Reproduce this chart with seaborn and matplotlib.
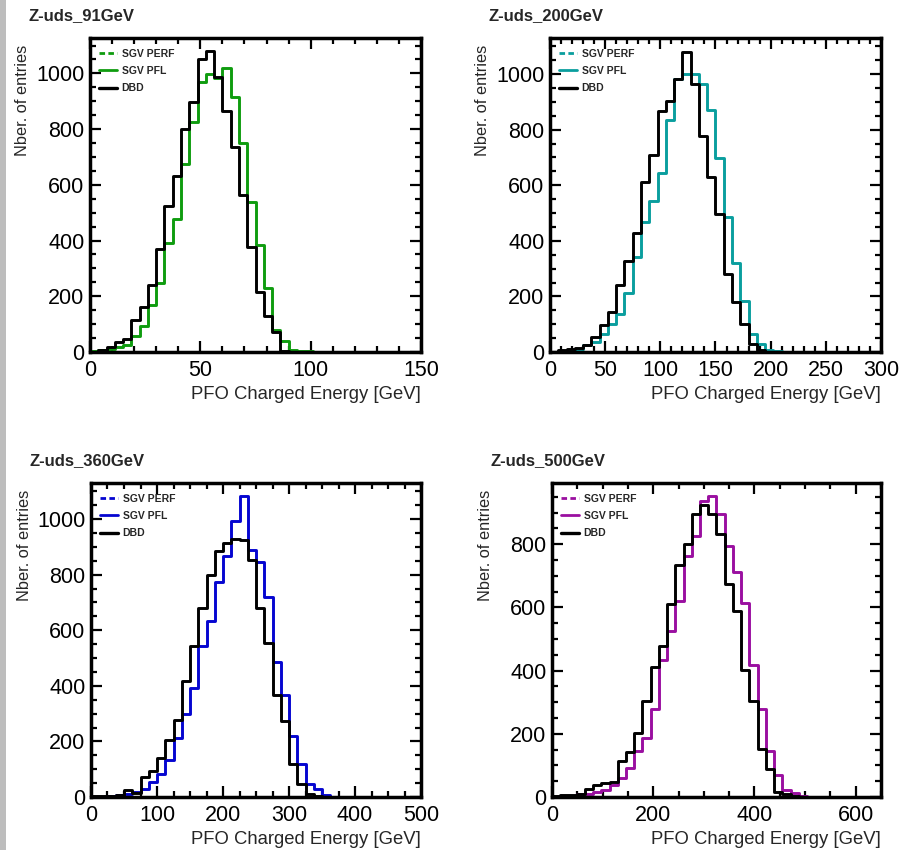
import numpy as np
import pandas as pd
import matplotlib
matplotlib.use("Agg")
import matplotlib.pyplot as plt
from matplotlib.lines import Line2D
from matplotlib.patches import Rectangle
from matplotlib.ticker import MultipleLocator
import seaborn as sns

# ---------------- data (bin contents, 40 bins per panel) ----------------
titles = ["Z-uds_91GeV", "Z-uds_200GeV", "Z-uds_360GeV", "Z-uds_500GeV"]
x_max = [150, 300, 500, 650]
n_bins = 40

sgv_91 = [2, 6, 12, 18, 25, 56, 92, 170, 246, 392, 479, 673, 826, 970, 997, 985, 1019, 915, 750, 539,
          383, 231, 80, 40, 6, 3, 2, 1, 1, 1, 1, 1, 1, 1, 1, 1, 0, 0, 0, 0]
dbd_91 = [1, 6, 18, 36, 48, 116, 162, 240, 368, 525, 632, 800, 899, 1051, 1080, 988, 866, 734, 563, 377,
          216, 128, 72, 4, 1, 0, 0, 0, 0, 0, 0, 0, 0, 0, 0, 0, 0, 0, 0, 0]

sgv_200 = [1, 2, 6, 12, 24, 36, 66, 99, 135, 213, 341, 469, 545, 644, 836, 984, 1000, 1000, 966, 871,
           698, 487, 320, 183, 63, 28, 6, 2, 1, 1, 0, 0, 0, 0, 0, 0, 0, 0, 0, 0]
dbd_200 = [1, 8, 10, 14, 26, 54, 98, 144, 240, 327, 429, 611, 710, 866, 904, 984, 1080, 966, 778, 631,
           497, 281, 180, 99, 28, 6, 1, 0, 0, 0, 0, 0, 0, 0, 0, 0, 0, 0, 0, 0]

sgv_360 = [0, 1, 3, 6, 12, 18, 30, 54, 84, 134, 214, 298, 394, 545, 635, 772, 868, 994, 1083, 888,
           846, 720, 486, 366, 218, 120, 48, 30, 6, 1, 0, 0, 0, 0, 0, 0, 0, 0, 0, 0]
dbd_360 = [2, 3, 5, 8, 24, 16, 72, 94, 142, 204, 276, 416, 543, 680, 800, 884, 914, 930, 926, 852,
           680, 554, 366, 274, 120, 48, 12, 2, 0, 0, 0, 0, 0, 0, 0, 0, 0, 0, 0, 0]

sgv_500 = [0, 2, 3, 10, 10, 16, 21, 37, 60, 93, 146, 187, 277, 434, 527, 619, 764, 825, 937, 952,
           896, 794, 712, 614, 418, 280, 146, 69, 21, 13, 2, 0, 0, 0, 0, 0, 0, 0, 0, 0]
dbd_500 = [3, 5, 5, 8, 26, 39, 44, 48, 113, 141, 203, 304, 410, 478, 612, 733, 801, 897, 924, 896,
           831, 675, 590, 403, 304, 153, 88, 16, 10, 2, 0, 0, 0, 0, 0, 0, 0, 0, 0, 0]

sgv_series = [sgv_91, sgv_200, sgv_360, sgv_500]
dbd_series = [dbd_91, dbd_200, dbd_360, dbd_500]
colors = ["#0f9c0f", "#0a9e9e", "#0505d0", "#9a0fa0"]
legend_labels = ["SGV PERF", "SGV PFL", "DBD"]
y_max = [1127, 1130, 1130, 994]
x_major = [50, 50, 100, 200]
x_minor = [10, 10, 25, 50]
xlabel = "PFO Charged Energy [GeV]"
ylabel = "Nber. of entries"

# ---------------- style ----------------
sns.set_style("ticks")
plt.rcParams["font.family"] = ["Liberation Sans", "DejaVu Sans"]

W, H = 904, 850
fig = plt.figure(figsize=(W / 100, H / 100), dpi=100)
fig.patch.set_facecolor("white")
fig.add_artist(Rectangle((0, 0), 6 / W, 1, transform=fig.transFigure,
                         facecolor="#bdbdbd", edgecolor="none"))

# axes boxes in pixels: left, top, right, bottom
boxes = [(90, 38, 421, 352), (550, 38, 881, 352), (91, 483, 421, 797), (552, 483, 881, 797)]

for i, (l, t, r, b) in enumerate(boxes):
    ax = fig.add_axes([l / W, 1 - b / H, (r - l) / W, (b - t) / H])
    width = x_max[i] / n_bins
    centers = (np.arange(n_bins) + 0.5) * width
    df_sgv = pd.DataFrame({"E": centers, "n": np.asarray(sgv_series[i], dtype=float)})
    df_dbd = pd.DataFrame({"E": centers, "n": np.asarray(dbd_series[i], dtype=float)})
    sns.histplot(data=df_sgv, x="E", weights="n", bins=n_bins, binrange=(0, x_max[i]),
                 element="step", fill=False, color=colors[i], linewidth=2.1, ax=ax)
    sns.histplot(data=df_dbd, x="E", weights="n", bins=n_bins, binrange=(0, x_max[i]),
                 element="step", fill=False, color="black", linewidth=2.1, ax=ax)

    ax.set_xlim(0, x_max[i])
    ax.set_ylim(0, y_max[i])
    ax.xaxis.set_major_locator(MultipleLocator(x_major[i]))
    ax.xaxis.set_minor_locator(MultipleLocator(x_minor[i]))
    ax.yaxis.set_major_locator(MultipleLocator(200))
    ax.yaxis.set_minor_locator(MultipleLocator(50))
    ax.tick_params(which="both", direction="in", top=True, right=True, width=1.6, colors="black")
    ax.tick_params(which="major", length=8)
    ax.tick_params(which="minor", length=4.5)
    ax.tick_params(axis="x", which="major", labelsize=15.5, pad=6)
    ax.tick_params(axis="y", which="major", labelsize=15.5, pad=4)
    for sp in ax.spines.values():
        sp.set_linewidth(2.5)
        sp.set_color("black")
        sp.set_visible(True)

    ax.set_xlabel(xlabel, loc="right", fontsize=13.3)
    ax.xaxis.set_label_coords(1.0, -0.108)
    ax.set_ylabel(ylabel, loc="top", fontsize=11.8)
    ax.yaxis.set_label_coords(-0.18, 0.978)

    ax.set_title(titles[i], loc="left", x=-0.187, y=1.058, pad=0, fontsize=12, fontweight="bold")

    handles = [Line2D([], [], color=colors[i], lw=2.0, ls=(0, (2, 1.2))),
               Line2D([], [], color=colors[i], lw=2.0),
               Line2D([], [], color="black", lw=2.4)]
    ax.legend(handles, legend_labels, loc="upper left", bbox_to_anchor=(0.028, 0.965),
              frameon=False, borderaxespad=0, borderpad=0,
              prop={"weight": "bold", "size": 7.5}, handlelength=1.75, handletextpad=0.4,
              labelspacing=0.68)

fig.savefig("out.png", dpi=100, facecolor="white")
